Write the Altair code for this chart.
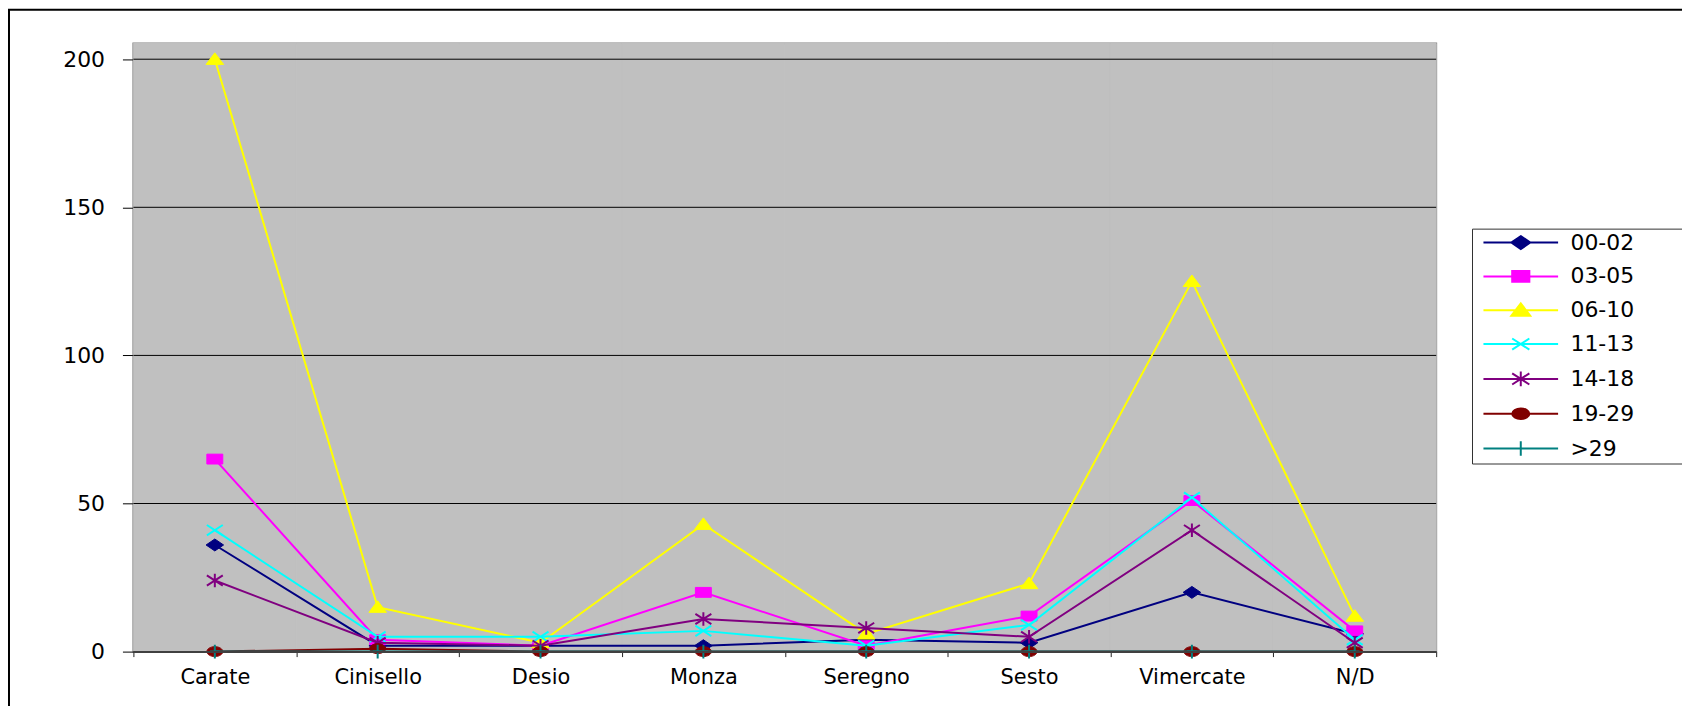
import altair as alt
import pandas as pd

categories = ["Carate", "Cinisello", "Desio", "Monza", "Seregno", "Sesto", "Vimercate", "N/D"]
series = ["00-02", "03-05", "06-10", "11-13", "14-18", "19-29", ">29"]
v_00_02 = [36, 2, 2, 2, 4, 3, 20, 6]
v_03_05 = [65, 4, 2, 20, 2, 12, 51, 7]
v_06_10 = [200, 15, 3, 43, 6, 23, 125, 12]
v_11_13 = [41, 5, 5, 7, 2, 9, 52, 4]
v_14_18 = [24, 3, 2, 11, 8, 5, 41, 3]
v_19_29 = [0, 1, 0, 0, 0, 0, 0, 0]
v_gt_29 = [0, 0, 0, 0, 0, 0, 0, 0]
y_ticks = [0, 50, 100, 150, 200]
y_max = 205.3

colors = ["#000080", "#FF00FF", "#FFFF00", "#00FFFF", "#800080", "#800000", "#008080"]
filled = [True, True, True, False, False, True, False]


def marker(kind, cx, k=1.0):
    a = lambda v: round(v * k, 3)
    if kind == 0:
        return f"M{cx},{a(-0.75)}L{cx+a(1.1)},0L{cx},{a(0.75)}L{cx-a(1.1)},0Z"
    if kind == 1:
        return f"M{cx-a(1)},{a(-0.62)}L{cx+a(1)},{a(-0.62)}L{cx+a(1)},{a(0.62)}L{cx-a(1)},{a(0.62)}Z"
    if kind == 2:
        return f"M{cx},{a(-0.8)}L{cx+a(1.1)},{a(0.65)}L{cx-a(1.1)},{a(0.65)}Z"
    if kind == 3:
        return f"M{cx-a(1)},{a(-0.65)}L{cx+a(1)},{a(0.65)}M{cx-a(1)},{a(0.65)}L{cx+a(1)},{a(-0.65)}"
    if kind == 4:
        return (f"M{cx-a(1)},{a(-0.65)}L{cx+a(1)},{a(0.65)}M{cx-a(1)},{a(0.65)}L{cx+a(1)},{a(-0.65)}"
                f"M{cx},{a(-0.85)}L{cx},{a(0.85)}")
    if kind == 5:
        return (f"M{cx-a(1)},0A{a(1)},{a(0.62)} 0 1,0 {cx+a(1)},0"
                f"A{a(1)},{a(0.62)} 0 1,0 {cx-a(1)},0Z")
    return f"M{cx},{a(-0.85)}L{cx},{a(0.85)}M{cx-a(0.6)},0L{cx+a(0.6)},0"


data_paths = [marker(i, 0) for i in range(7)]
legend_paths = [f"M-0.333,0L9.667,0" + marker(i, 4.667, 1.15) for i in range(7)]

values = [v_00_02, v_03_05, v_06_10, v_11_13, v_14_18, v_19_29, v_gt_29]
rows = []
for s, vals in zip(series, values):
    for c, v in zip(categories, vals):
        rows.append({"series": s, "cat": c, "value": v})
df = pd.DataFrame(rows)
df_ticks = pd.DataFrame({"tick": y_ticks})

x_scale = alt.Scale(type="band", domain=categories, paddingInner=0, paddingOuter=0)
x_axis = alt.Axis(
    title=None, labelAngle=0, tickBand="extent", grid=False,
    domainColor="#404040", domainWidth=2, tickColor="#202020", tickSize=5,
    labelPadding=10, labelFont="DejaVu Sans", labelFontSize=21, labelColor="black",
)
y_scale = alt.Scale(domain=[0, y_max], nice=False, zero=True)
y_axis = alt.Axis(
    title=None, values=y_ticks, grid=False,
    domainColor="black", domainWidth=1.5, tickColor="black", tickSize=11,
    labelPadding=18, labelFont="DejaVu Sans", labelFontSize=22, labelColor="black",
)
x_enc = alt.X("cat:N", sort=categories, bandPosition=0.5, scale=x_scale, axis=x_axis)
y_enc = alt.Y("value:Q", scale=y_scale, axis=y_axis)

base = alt.Chart(df)

# plot-area background (one band per category)
bg = base.transform_filter(alt.datum.series == series[0]).mark_rect(
    color="#C0C0C0", stroke="#C0C0C0", strokeWidth=1
).encode(
    x=alt.X("cat:N", sort=categories, scale=x_scale, axis=x_axis),
    y=alt.Y(datum=0, type="quantitative", scale=y_scale, axis=y_axis),
    y2=alt.Y2(datum=y_max),
)

grid = alt.Chart(df_ticks).mark_rule(color="black", strokeWidth=1).encode(
    y=alt.Y("tick:Q", scale=y_scale, axis=y_axis)
)

layers = []
for i, s in enumerate(series):
    sub = base.transform_filter(alt.datum.series == s)
    layers.append(sub.mark_line(color=colors[i], strokeWidth=2).encode(x=x_enc, y=y_enc))
    if filled[i]:
        pm = sub.mark_point(shape=data_paths[i], size=256, filled=True, fill=colors[i],
                            stroke=colors[i], strokeWidth=1, opacity=1)
    else:
        pm = sub.mark_point(shape=data_paths[i], size=256, filled=False,
                            stroke=colors[i], strokeWidth=2, opacity=1)
    layers.append(pm.encode(x=x_enc, y=y_enc))

filler = "\u2800\u2800\u2800"
leg = alt.Legend(
    orient="none", legendX=1345, legendY=186, title=None,
    strokeColor="#303030", fillColor="white", padding=3,
    labelFont="DejaVu Sans", labelFontSize=22, labelColor="black",
    labelOffset=74, rowPadding=12, symbolSize=225, symbolStrokeWidth=2,
    symbolOpacity=1, labelExpr="datum.label + '" + filler + "'", labelLimit=400,
)
legend_layer = base.transform_filter("false").mark_point(
    size=225, filled=False, opacity=1, strokeWidth=2
).encode(
    shape=alt.Shape("series:N", scale=alt.Scale(domain=series, range=legend_paths), legend=leg),
    stroke=alt.Stroke("series:N", scale=alt.Scale(domain=series, range=colors), legend=leg),
    fill=alt.Fill("series:N", scale=alt.Scale(domain=series, range=colors), legend=leg),
)

border = alt.Chart(pd.DataFrame({"b": [0]})).mark_rect(
    fillOpacity=0, stroke="black", strokeWidth=2
).encode(x=alt.value(-125), x2=alt.value(1561), y=alt.value(-34), y2=alt.value(680))

chart = alt.layer(border, bg, grid, *layers, legend_layer).properties(
    width=1309, height=611,
    autosize=alt.AutoSizeParams(type="none"),
    padding={"left": 126, "top": 34, "right": 247, "bottom": 60},
    background="white",
).configure_view(
    stroke="#808080", strokeWidth=2
)

chart.save("out.html", embed_options={"renderer": "svg", "actions": False})
